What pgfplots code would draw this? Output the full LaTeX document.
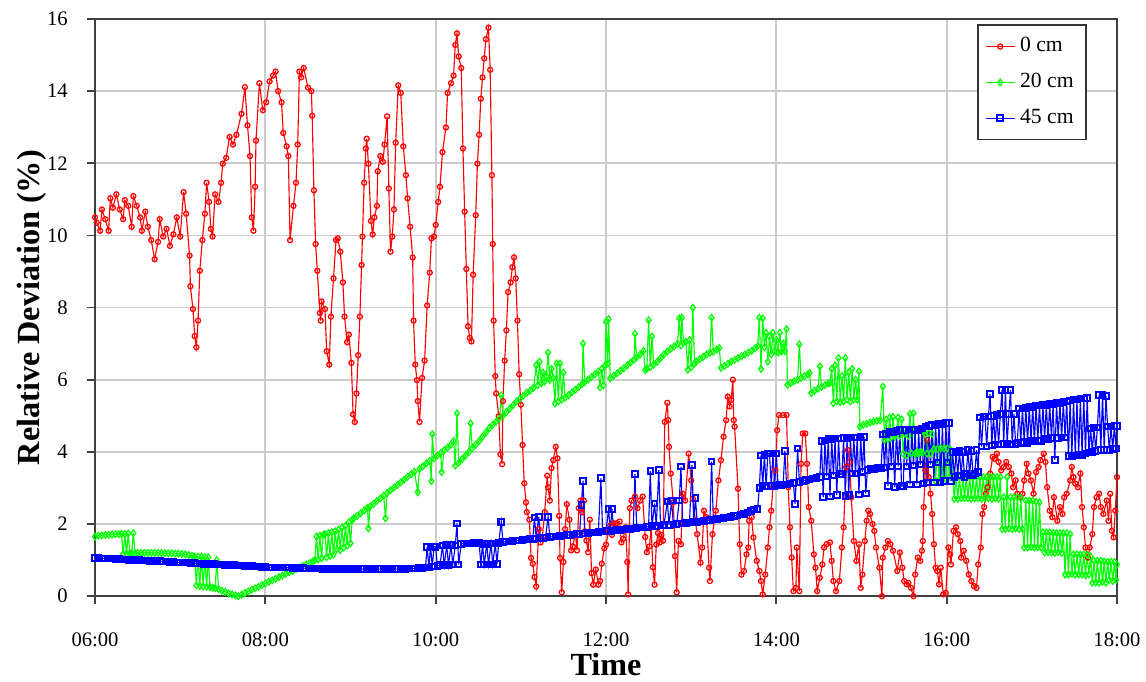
\documentclass[border=0pt]{standalone}
\usepackage{fontspec}
\setmainfont{Liberation Serif}
\usepackage{pgfplots}
\pgfplotsset{compat=1.18}
\definecolor{sred}{RGB}{255,0,0}
\definecolor{sgreen}{RGB}{0,255,0}
\definecolor{sblue}{RGB}{0,0,255}
\begin{document}
\begin{tikzpicture}
\begin{axis}[
  scale only axis,
  width=14.27cm, height=8.06cm,
  xmin=6, xmax=18, ymin=0, ymax=16,
  xtick={6,8,10,12,14,16,18},
  xticklabels={06:00,08:00,10:00,12:00,14:00,16:00,18:00},
  ytick={0,2,4,6,8,10,12,14,16},
  xtick pos=left, ytick pos=left,
  tick align=outside,
  major tick length=0.11cm,
  tick style={black!75, line width=0.7pt},
  grid=major,
  major grid style={gray!40, line width=0.7pt},
  axis line style={black!75, line width=0.9pt},
  /pgf/number format/assume math mode=true,
  tick label style={font=\fontsize{8.2}{9}\selectfont},
  xticklabel style={anchor=north, inner sep=0pt, yshift=-0.40cm},
  yticklabel style={anchor=east, inner sep=0pt, xshift=-0.265cm},
  every axis x label/.style={at={(rel axis cs:0.5,0)}, yshift=-0.95cm, anchor=center, inner sep=0pt, font=\bfseries\fontsize{12.8}{14}\selectfont},
  every axis y label/.style={at={(rel axis cs:0,0.5)}, xshift=-0.88cm, rotate=90, anchor=center, inner sep=0pt, font=\bfseries\fontsize{12.8}{14}\selectfont},
  xlabel={\textbf{Time}},
  ylabel={\textbf{Relative Deviation (\%)}},
  legend style={at={(rel axis cs:0.863,0.991)}, anchor=north west, draw=black!80, line width=0.6pt,
    font=\fontsize{8.6}{9}\selectfont, row sep=3pt, inner xsep=3pt, inner ysep=3pt},
  legend cell align=left,
  legend image code/.code={\draw[mark repeat=2,mark phase=2] plot coordinates {(0cm,0cm) (0.2cm,0cm) (0.4cm,0cm)};},
]
\addplot[sred, line width=0.45pt, mark=o, mark size=1.0pt, mark options={fill=white, line width=0.5pt}] coordinates {
(6.00,10.5)(6.02,10.35)(6.06,10.13)(6.08,10.72)(6.12,10.45)(6.16,10.13)(6.18,11.03)(6.21,10.77)(6.25,11.14)(6.29,10.72)(6.33,10.45)(6.35,10.98)(6.39,10.82)(6.43,10.24)(6.45,11.09)(6.49,10.82)(6.53,10.5)(6.55,10.13)(6.59,10.66)(6.62,10.24)(6.66,9.87)(6.70,9.34)(6.74,9.82)(6.76,10.45)(6.80,9.97)(6.84,10.18)(6.88,9.71)(6.92,10.03)(6.96,10.5)(7.00,9.97)(7.04,11.2)(7.07,10.6)(7.11,9.44)(7.12,8.59)(7.15,7.96)(7.17,7.21)(7.19,6.9)(7.21,7.64)(7.23,9.02)(7.26,9.87)(7.29,10.6)(7.31,11.46)(7.34,10.93)(7.36,10.18)(7.38,9.97)(7.41,11.14)(7.45,10.93)(7.48,11.46)(7.50,11.99)(7.54,12.15)(7.58,12.73)(7.62,12.52)(7.66,12.79)(7.72,13.37)(7.76,14.11)(7.79,13.05)(7.82,12.2)(7.84,10.5)(7.86,10.13)(7.88,11.35)(7.89,12.63)(7.93,14.22)(7.97,13.47)(8.01,13.69)(8.05,14.27)(8.09,14.43)(8.12,14.54)(8.15,14.0)(8.19,13.69)(8.21,12.84)(8.25,12.47)(8.27,12.2)(8.29,9.87)(8.33,10.82)(8.36,11.46)(8.38,12.52)(8.40,14.54)(8.42,14.38)(8.45,14.64)(8.50,14.1)(8.54,14.0)(8.55,13.32)(8.57,11.25)(8.59,9.76)(8.61,9.02)(8.64,7.85)(8.65,7.64)(8.66,8.17)(8.70,7.96)(8.72,6.79)(8.75,6.42)(8.77,7.75)(8.80,8.81)(8.83,9.87)(8.85,9.92)(8.88,9.55)(8.91,8.7)(8.93,7.75)(8.96,7.04)(8.98,7.25)(9.01,6.47)(9.03,5.04)(9.05,4.83)(9.07,5.62)(9.09,6.68)(9.11,7.75)(9.13,9.18)(9.14,9.97)(9.16,11.46)(9.18,12.41)(9.19,12.68)(9.21,11.99)(9.24,10.4)(9.26,10.03)(9.28,10.5)(9.31,10.82)(9.32,11.78)(9.35,12.2)(9.38,12.04)(9.40,12.52)(9.43,13.3)(9.45,11.3)(9.47,9.55)(9.49,9.97)(9.51,10.72)(9.53,12.57)(9.56,14.16)(9.59,13.95)(9.62,12.47)(9.65,11.67)(9.67,11.03)(9.70,10.24)(9.73,9.39)(9.74,7.64)(9.76,6.42)(9.78,5.99)(9.79,5.41)(9.81,4.83)(9.84,6.05)(9.87,6.53)(9.90,8.06)(9.93,8.97)(9.95,9.92)(9.98,9.97)(10.0,10.29)(10.03,10.93)(10.05,11.35)(10.08,12.31)(10.12,12.99)(10.14,13.95)(10.18,14.22)(10.21,14.43)(10.23,15.28)(10.25,15.6)(10.27,14.96)(10.30,14.64)(10.32,12.41)(10.34,10.66)(10.36,9.07)(10.38,7.48)(10.40,7.16)(10.42,7.06)(10.44,8.91)(10.47,10.56)(10.49,11.99)(10.51,12.79)(10.53,13.79)(10.55,14.38)(10.57,14.91)(10.59,15.44)(10.62,15.76)(10.64,14.59)(10.66,11.67)(10.67,9.76)(10.68,7.64)(10.70,6.1)(10.71,5.62)(10.74,4.99)(10.76,3.93)(10.78,3.66)(10.79,5.41)(10.81,6.53)(10.83,7.37)(10.85,8.43)(10.88,8.70)(10.90,9.12)(10.92,9.39)(10.94,8.81)(10.96,7.64)(10.98,6.15)(11.00,5.31)(11.02,4.19)(11.04,3.13)(11.06,2.6)(11.07,2.33)(11.10,2.12)(11.12,1.06)(11.14,0.9)(11.16,0.53)(11.18,0.27)(11.21,1.86)(11.23,1.49)(11.25,1.59)(11.28,2.33)(11.31,3.34)(11.32,3.02)(11.34,2.65)(11.36,3.55)(11.38,3.77)(11.41,4.14)(11.43,3.82)(11.45,2.23)(11.46,1.06)(11.48,0.11)(11.50,0.95)(11.52,1.86)(11.54,2.55)(11.57,2.12)(11.59,1.27)(11.61,1.38)(11.64,1.75)(11.66,1.27)(11.68,2.44)(11.70,2.65)(11.72,2.33)(11.74,2.65)(11.75,1.8)(11.77,1.54)(11.79,1.22)(11.81,2.12)(11.83,0.64)(11.85,0.32)(11.88,0.74)(11.91,0.32)(11.93,0.42)(11.95,0.9)(11.98,1.33)(12.0,1.43)(12.03,1.8)(12.05,1.96)(12.07,1.7)(12.09,2.02)(12.12,2.02)(12.16,2.07)(12.18,1.49)(12.20,1.59)(12.23,1.91)(12.25,0.95)(12.26,0.05)(12.28,2.44)(12.30,2.65)(12.34,2.76)(12.37,2.44)(12.40,2.65)(12.43,2.76)(12.46,1.64)(12.48,1.22)(12.51,1.38)(12.53,1.91)(12.55,0.8)(12.57,0.32)(12.59,1.43)(12.61,1.75)(12.63,1.49)(12.65,1.7)(12.67,1.54)(12.69,4.83)(12.72,5.36)(12.73,4.88)(12.74,4.14)(12.76,3.4)(12.79,2.6)(12.80,1.96)(12.81,1.11)(12.83,0.11)(12.85,1.53)(12.88,1.44)(12.90,2.84)(12.93,2.65)(12.97,3.95)(13.0,3.21)(13.02,2.7)(13.05,2.09)(13.07,1.72)(13.11,0.93)(13.13,1.35)(13.15,2.37)(13.18,2.19)(13.21,0.79)(13.22,0.42)(13.25,1.72)(13.29,2.37)(13.32,3.21)(13.35,3.77)(13.38,4.42)(13.41,4.88)(13.43,5.53)(13.45,5.26)(13.47,5.44)(13.49,6.0)(13.50,4.88)(13.51,4.7)(13.55,2.98)(13.57,1.44)(13.59,0.6)(13.62,0.7)(13.65,1.16)(13.67,1.35)(13.68,2.09)(13.71,2.19)(13.73,1.63)(13.77,0.98)(13.80,0.7)(13.82,0.42)(13.84,0.05)(13.87,0.6)(13.90,1.35)(13.92,1.91)(13.94,2.37)(13.96,3.02)(13.99,3.49)(14.01,4.6)(14.03,5.02)(14.08,5.02)(14.12,5.02)(14.14,3.02)(14.16,1.91)(14.18,1.07)(14.20,0.14)(14.23,0.23)(14.24,1.35)(14.27,0.14)(14.29,3.67)(14.31,4.51)(14.34,4.51)(14.36,3.67)(14.38,2.47)(14.41,2.09)(14.44,1.16)(14.46,0.79)(14.48,0.14)(14.51,0.51)(14.54,0.88)(14.56,1.35)(14.59,1.44)(14.63,1.49)(14.65,0.98)(14.67,0.42)(14.70,0.14)(14.74,0.42)(14.77,1.35)(14.79,1.91)(14.82,3.58)(14.84,4.05)(14.86,3.72)(14.88,2.74)(14.91,1.53)(14.94,0.98)(14.97,1.44)(14.99,0.23)(15.01,0.6)(15.04,1.53)(15.06,2.09)(15.08,2.37)(15.10,2.28)(15.13,2.0)(15.15,1.81)(15.17,1.35)(15.21,0.79)(15.24,0.0)(15.25,1.07)(15.28,1.35)(15.31,1.53)(15.34,1.44)(15.37,1.26)(15.42,0.7)(15.45,1.21)(15.48,0.79)(15.5,0.42)(15.53,0.33)(15.55,0.37)(15.58,0.23)(15.61,0.0)(15.63,0.6)(15.66,1.07)(15.69,0.98)(15.71,1.26)(15.72,1.53)(15.73,2.47)(15.75,3.49)(15.77,4.33)(15.79,3.3)(15.81,2.84)(15.83,2.28)(15.85,1.44)(15.87,0.79)(15.89,0.7)(15.91,0.33)(15.93,0.79)(15.96,0.05)(15.99,0.09)(16.02,1.35)(16.04,1.16)(16.05,0.88)(16.08,1.81)(16.11,1.91)(16.13,1.72)(16.16,1.53)(16.17,1.07)(16.20,1.26)(16.23,0.98)(16.26,0.6)(16.29,0.42)(16.32,0.28)(16.35,0.23)(16.37,0.88)(16.40,1.35)(16.42,2.28)(16.44,2.47)(16.46,2.84)(16.48,3.02)(16.51,3.4)(16.54,3.86)(16.56,3.81)(16.59,3.95)(16.61,3.72)(16.64,3.49)(16.67,3.58)(16.70,3.72)(16.73,3.58)(16.76,3.4)(16.78,3.02)(16.81,3.21)(16.83,2.84)(16.86,2.74)(16.89,2.84)(16.91,3.21)(16.94,3.67)(16.96,3.4)(16.99,3.21)(17.02,2.84)(17.05,3.44)(17.08,3.58)(17.10,3.77)(17.14,3.95)(17.16,3.72)(17.18,3.02)(17.21,2.37)(17.24,2.19)(17.26,2.74)(17.30,2.09)(17.33,2.47)(17.36,2.28)(17.38,2.74)(17.41,2.84)(17.45,3.21)(17.47,3.58)(17.49,3.3)(17.51,3.12)(17.54,3.02)(17.57,3.4)(17.59,2.47)(17.61,1.91)(17.63,1.35)(17.66,1.07)(17.68,1.35)(17.71,1.72)(17.73,2.47)(17.76,2.74)(17.79,2.84)(17.81,2.47)(17.84,2.28)(17.88,2.65)(17.90,2.09)(17.92,2.84)(17.94,1.81)(17.96,1.63)(17.98,2.37)(18.0,3.3)
};
\addlegendentry{0 cm}
\addplot[sgreen, line width=0.45pt, mark=diamond, mark size=1.3pt, mark options={fill=white, line width=0.5pt}] coordinates {
(6.00,1.65)(6.04,1.68)(6.08,1.69)(6.12,1.70)(6.16,1.70)(6.20,1.71)(6.24,1.72)(6.28,1.72)(6.31,1.73)(6.33,1.17)(6.35,1.72)(6.37,1.17)(6.39,1.74)(6.41,1.18)(6.43,1.20)(6.45,1.75)(6.47,1.19)(6.50,1.20)(6.54,1.20)(6.58,1.20)(6.62,1.20)(6.66,1.20)(6.70,1.20)(6.74,1.20)(6.78,1.20)(6.82,1.19)(6.86,1.19)(6.90,1.19)(6.94,1.18)(6.98,1.18)(7.02,1.17)(7.06,1.16)(7.10,1.14)(7.14,1.12)(7.17,1.10)(7.19,0.30)(7.21,1.10)(7.23,0.28)(7.25,1.10)(7.27,0.27)(7.29,1.08)(7.31,0.26)(7.33,1.08)(7.35,0.25)(7.38,0.24)(7.41,0.22)(7.43,1.00)(7.45,0.20)(7.49,0.15)(7.53,0.12)(7.57,0.08)(7.61,0.05)(7.65,0.02)(7.68,0.00)(7.72,0.04)(7.76,0.09)(7.80,0.13)(7.84,0.18)(7.88,0.22)(7.92,0.26)(7.96,0.31)(8.00,0.35)(8.04,0.40)(8.08,0.44)(8.12,0.48)(8.16,0.53)(8.20,0.57)(8.24,0.62)(8.28,0.66)(8.32,0.70)(8.36,0.75)(8.40,0.79)(8.44,0.84)(8.48,0.88)(8.52,0.92)(8.56,0.97)(8.58,1.00)(8.60,1.65)(8.62,1.02)(8.64,1.68)(8.66,1.05)(8.68,1.70)(8.70,1.72)(8.72,1.08)(8.74,1.75)(8.76,1.12)(8.78,1.78)(8.80,1.15)(8.82,1.80)(8.84,1.30)(8.86,1.85)(8.88,1.28)(8.90,1.90)(8.92,1.35)(8.94,1.95)(8.96,1.40)(8.98,2.05)(9.00,1.47)(9.02,2.12)(9.04,2.16)(9.08,2.23)(9.12,2.30)(9.16,2.38)(9.20,2.45)(9.21,1.88)(9.23,2.49)(9.27,2.56)(9.31,2.64)(9.35,2.71)(9.39,2.79)(9.41,2.16)(9.43,2.86)(9.47,2.94)(9.51,3.01)(9.55,3.08)(9.59,3.16)(9.63,3.23)(9.67,3.31)(9.71,3.38)(9.75,3.45)(9.79,2.88)(9.81,3.53)(9.85,3.60)(9.89,3.68)(9.93,3.75)(9.95,3.19)(9.96,4.49)(9.98,3.82)(10.02,3.90)(10.06,3.97)(10.07,3.44)(10.10,4.05)(10.14,4.12)(10.18,4.20)(10.21,4.30)(10.23,3.62)(10.25,5.07)(10.27,3.70)(10.31,3.80)(10.35,3.90)(10.39,4.00)(10.41,4.79)(10.43,4.10)(10.47,4.20)(10.51,4.30)(10.55,4.42)(10.59,4.54)(10.63,4.66)(10.67,4.75)(10.71,4.84)(10.75,4.93)(10.77,5.57)(10.79,5.00)(10.83,5.10)(10.87,5.20)(10.91,5.30)(10.95,5.40)(10.99,5.48)(11.03,5.56)(11.07,5.64)(11.11,5.70)(11.15,5.78)(11.18,6.40)(11.20,5.85)(11.22,6.50)(11.24,5.90)(11.26,6.20)(11.28,5.95)(11.30,6.10)(11.32,6.75)(11.34,6.00)(11.36,6.30)(11.38,6.05)(11.40,5.34)(11.42,6.45)(11.44,5.40)(11.46,6.45)(11.48,5.45)(11.50,6.20)(11.52,5.50)(11.56,5.57)(11.60,5.65)(11.64,5.72)(11.68,5.80)(11.72,5.88)(11.73,7.00)(11.75,5.93)(11.79,6.00)(11.83,6.08)(11.87,6.15)(11.91,6.23)(11.93,5.79)(11.95,6.30)(11.97,5.85)(11.99,6.40)(12.00,7.61)(12.02,6.45)(12.03,7.68)(12.05,6.04)(12.09,6.11)(12.13,6.18)(12.17,6.25)(12.21,6.32)(12.25,6.40)(12.29,6.48)(12.33,6.56)(12.34,7.28)(12.36,6.62)(12.40,6.70)(12.44,6.80)(12.46,6.27)(12.48,6.30)(12.50,7.65)(12.52,6.35)(12.54,7.20)(12.56,6.42)(12.60,6.50)(12.64,6.60)(12.68,6.70)(12.72,6.78)(12.76,6.86)(12.80,6.92)(12.84,7.00)(12.86,7.70)(12.88,6.95)(12.89,7.72)(12.91,7.02)(12.94,7.05)(12.96,6.28)(12.98,7.10)(13.00,6.35)(13.02,8.00)(13.04,6.45)(13.06,6.50)(13.10,6.57)(13.14,6.63)(13.18,6.70)(13.22,6.75)(13.24,7.72)(13.26,6.78)(13.30,6.84)(13.33,6.88)(13.35,6.33)(13.39,6.38)(13.43,6.44)(13.47,6.50)(13.51,6.55)(13.55,6.60)(13.59,6.65)(13.63,6.70)(13.67,6.75)(13.71,6.80)(13.75,6.87)(13.78,6.93)(13.80,7.72)(13.82,6.30)(13.84,7.70)(13.86,6.90)(13.88,7.30)(13.90,6.50)(13.92,7.20)(13.94,6.70)(13.96,7.30)(13.98,6.80)(14.00,7.10)(14.02,6.75)(14.04,7.30)(14.06,6.78)(14.08,7.00)(14.10,6.79)(14.12,7.40)(14.13,5.86)(14.17,5.91)(14.21,5.96)(14.25,6.00)(14.27,6.98)(14.29,6.05)(14.33,6.10)(14.37,6.15)(14.39,6.19)(14.41,5.63)(14.45,5.70)(14.49,5.75)(14.51,6.37)(14.53,5.80)(14.57,5.85)(14.61,5.90)(14.63,5.91)(14.65,6.30)(14.67,5.35)(14.69,6.40)(14.71,5.40)(14.73,6.60)(14.75,5.38)(14.77,6.10)(14.79,5.40)(14.81,6.60)(14.83,5.45)(14.85,6.20)(14.87,5.40)(14.89,6.30)(14.91,5.45)(14.93,6.00)(14.95,5.45)(14.97,6.23)(14.98,4.70)(15.02,4.75)(15.06,4.78)(15.10,4.81)(15.14,4.84)(15.18,4.86)(15.22,4.88)(15.25,5.81)(15.27,4.33)(15.29,4.90)(15.31,4.35)(15.33,4.95)(15.35,4.40)(15.37,4.97)(15.39,4.42)(15.41,4.50)(15.43,4.95)(15.45,4.45)(15.47,4.90)(15.49,3.95)(15.51,4.50)(15.53,3.90)(15.55,4.45)(15.57,5.05)(15.59,3.95)(15.61,5.07)(15.63,3.95)(15.65,4.00)(15.67,3.95)(15.69,4.00)(15.71,3.98)(15.73,4.55)(15.75,4.50)(15.77,3.95)(15.79,4.52)(15.81,3.95)(15.83,4.50)(15.85,4.08)(15.87,3.20)(15.89,4.08)(15.91,3.22)(15.93,4.10)(15.95,3.25)(15.97,4.10)(15.99,3.25)(16.01,4.10)(16.03,3.30)(16.05,4.05)(16.07,3.30)(16.09,2.70)(16.11,3.30)(16.13,2.70)(16.15,3.30)(16.17,2.72)(16.19,3.30)(16.21,2.72)(16.23,3.30)(16.25,2.72)(16.27,3.30)(16.29,2.70)(16.31,3.30)(16.33,2.72)(16.35,3.32)(16.37,2.72)(16.39,3.30)(16.41,2.70)(16.43,3.30)(16.45,2.72)(16.47,3.30)(16.49,2.72)(16.51,3.30)(16.53,2.70)(16.55,3.30)(16.57,2.72)(16.59,3.30)(16.61,2.70)(16.63,3.30)(16.65,1.86)(16.67,2.74)(16.69,1.86)(16.71,3.30)(16.73,1.88)(16.75,2.74)(16.77,1.86)(16.79,2.74)(16.81,1.88)(16.83,2.74)(16.85,1.86)(16.87,2.72)(16.89,1.86)(16.91,1.35)(16.93,2.65)(16.95,1.35)(16.97,2.65)(16.99,1.37)(17.01,2.65)(17.03,1.35)(17.05,2.62)(17.07,1.36)(17.09,2.60)(17.11,1.35)(17.13,1.77)(17.15,1.21)(17.17,1.77)(17.19,1.22)(17.21,1.77)(17.23,1.21)(17.25,1.75)(17.27,1.20)(17.29,1.75)(17.31,1.22)(17.33,1.75)(17.35,1.20)(17.37,1.74)(17.39,0.60)(17.41,1.75)(17.43,0.60)(17.45,1.72)(17.47,0.62)(17.49,1.16)(17.51,0.60)(17.53,1.16)(17.55,0.60)(17.57,1.15)(17.59,0.60)(17.61,1.16)(17.63,0.58)(17.65,1.15)(17.67,0.60)(17.69,1.10)(17.71,0.37)(17.73,0.98)(17.75,0.38)(17.77,0.98)(17.79,0.37)(17.81,0.98)(17.83,0.40)(17.85,0.96)(17.87,0.37)(17.89,0.95)(17.91,0.45)(17.93,0.95)(17.95,0.42)(17.97,0.95)(17.99,0.45)(18.00,0.88)
};
\addlegendentry{20 cm}
\addplot[sblue, line width=0.45pt, mark=square, mark size=1.1pt, mark options={fill=white, line width=0.8pt}] coordinates {
(6.00,1.06)(6.04,1.06)(6.08,1.05)(6.12,1.05)(6.16,1.04)(6.20,1.04)(6.24,1.03)(6.28,1.03)(6.32,1.02)(6.36,1.02)(6.40,1.01)(6.44,1.01)(6.48,1.00)(6.52,1.00)(6.56,0.99)(6.60,0.99)(6.64,0.98)(6.68,0.98)(6.72,0.97)(6.76,0.97)(6.80,0.96)(6.84,0.96)(6.88,0.95)(6.92,0.95)(6.96,0.94)(7.00,0.94)(7.04,0.93)(7.08,0.93)(7.12,0.92)(7.16,0.92)(7.20,0.91)(7.24,0.91)(7.28,0.90)(7.32,0.90)(7.36,0.89)(7.40,0.89)(7.44,0.88)(7.48,0.88)(7.52,0.87)(7.56,0.87)(7.60,0.86)(7.64,0.86)(7.68,0.85)(7.72,0.85)(7.76,0.84)(7.80,0.84)(7.84,0.83)(7.88,0.82)(7.92,0.82)(7.96,0.81)(8.00,0.81)(8.04,0.80)(8.08,0.80)(8.12,0.80)(8.16,0.79)(8.20,0.79)(8.24,0.79)(8.28,0.79)(8.32,0.78)(8.36,0.78)(8.40,0.78)(8.44,0.78)(8.48,0.77)(8.52,0.77)(8.56,0.77)(8.60,0.77)(8.64,0.77)(8.68,0.76)(8.72,0.76)(8.76,0.76)(8.80,0.76)(8.84,0.76)(8.88,0.76)(8.92,0.75)(8.96,0.75)(9.00,0.75)(9.04,0.75)(9.08,0.75)(9.12,0.75)(9.16,0.75)(9.20,0.75)(9.24,0.75)(9.28,0.75)(9.32,0.75)(9.36,0.75)(9.40,0.75)(9.44,0.75)(9.48,0.75)(9.52,0.75)(9.56,0.75)(9.60,0.75)(9.64,0.76)(9.68,0.77)(9.72,0.77)(9.76,0.77)(9.80,0.78)(9.84,0.78)(9.88,0.80)(9.90,1.36)(9.92,0.80)(9.94,1.38)(9.96,0.82)(9.98,1.38)(10.00,1.36)(10.02,0.84)(10.05,0.86)(10.08,1.40)(10.10,0.85)(10.13,1.42)(10.15,0.86)(10.18,1.42)(10.20,0.88)(10.23,1.40)(10.25,2.02)(10.27,0.88)(10.30,1.45)(10.33,1.46)(10.36,1.46)(10.39,1.46)(10.42,1.46)(10.45,1.47)(10.48,1.47)(10.51,1.48)(10.53,0.88)(10.55,1.45)(10.57,0.88)(10.60,1.45)(10.62,0.88)(10.65,1.46)(10.67,0.88)(10.70,1.46)(10.72,0.89)(10.74,1.48)(10.77,2.06)(10.79,1.50)(10.82,1.51)(10.86,1.52)(10.90,1.53)(10.94,1.54)(10.98,1.55)(11.02,1.56)(11.06,1.57)(11.10,1.58)(11.14,1.59)(11.16,2.18)(11.18,1.60)(11.21,2.20)(11.23,1.61)(11.26,1.62)(11.29,1.63)(11.32,2.20)(11.34,1.64)(11.38,1.65)(11.42,1.66)(11.46,1.67)(11.50,1.68)(11.54,1.69)(11.58,1.70)(11.62,1.71)(11.66,1.72)(11.69,1.72)(11.71,2.53)(11.73,3.20)(11.75,1.74)(11.79,1.75)(11.83,1.76)(11.87,1.77)(11.91,1.78)(11.94,3.27)(11.96,1.79)(12.00,1.80)(12.03,2.41)(12.05,1.81)(12.07,2.41)(12.09,1.82)(12.13,1.83)(12.17,1.84)(12.21,1.85)(12.25,1.86)(12.29,1.87)(12.32,1.88)(12.34,3.39)(12.36,1.89)(12.40,1.90)(12.44,1.91)(12.48,1.92)(12.50,1.93)(12.52,3.47)(12.54,1.94)(12.57,2.57)(12.59,1.95)(12.62,3.50)(12.64,1.96)(12.68,1.97)(12.72,2.62)(12.74,1.98)(12.77,2.65)(12.79,1.99)(12.83,2.00)(12.86,2.65)(12.88,3.59)(12.90,2.01)(12.94,2.03)(12.98,2.04)(13.01,3.64)(13.03,2.05)(13.05,2.72)(13.07,2.06)(13.11,2.07)(13.15,2.08)(13.19,2.10)(13.22,2.11)(13.24,3.73)(13.26,2.12)(13.30,2.14)(13.34,2.15)(13.38,2.17)(13.42,2.18)(13.46,2.20)(13.50,2.22)(13.54,2.24)(13.58,2.26)(13.62,2.28)(13.66,2.32)(13.70,2.36)(13.74,2.40)(13.78,2.42)(13.80,3.00)(13.82,3.90)(13.84,3.05)(13.86,3.92)(13.88,3.05)(13.90,3.95)(13.92,3.95)(13.94,3.05)(13.96,3.95)(13.98,3.06)(14.00,3.95)(14.02,3.07)(14.04,3.08)(14.06,3.08)(14.08,3.09)(14.10,4.03)(14.12,3.10)(14.16,3.12)(14.20,3.14)(14.22,2.56)(14.25,4.09)(14.27,3.16)(14.31,3.20)(14.35,3.22)(14.39,3.24)(14.43,3.26)(14.47,3.28)(14.51,3.30)(14.53,4.30)(14.55,2.75)(14.57,4.32)(14.59,3.32)(14.61,4.35)(14.63,2.76)(14.65,4.35)(14.67,3.35)(14.69,4.37)(14.71,2.80)(14.73,4.37)(14.75,3.38)(14.77,3.38)(14.79,4.38)(14.81,2.78)(14.83,4.38)(14.85,2.80)(14.87,4.40)(14.89,3.40)(14.91,4.40)(14.93,3.40)(14.95,4.40)(14.97,2.82)(14.99,4.42)(15.01,3.45)(15.03,4.42)(15.05,2.85)(15.07,3.50)(15.11,3.52)(15.15,3.53)(15.19,3.55)(15.23,3.56)(15.25,4.48)(15.27,3.57)(15.29,4.50)(15.31,3.05)(15.33,4.55)(15.35,3.60)(15.37,4.55)(15.39,3.02)(15.41,4.58)(15.43,3.60)(15.45,4.60)(15.47,3.05)(15.49,3.05)(15.51,4.60)(15.53,3.60)(15.55,4.62)(15.57,3.10)(15.59,4.62)(15.61,3.62)(15.63,4.60)(15.65,3.10)(15.67,4.60)(15.69,3.65)(15.71,4.65)(15.73,3.12)(15.75,4.70)(15.77,3.15)(15.79,4.72)(15.81,3.65)(15.83,4.75)(15.85,3.15)(15.87,4.75)(15.89,3.70)(15.91,4.78)(15.93,3.15)(15.95,4.78)(15.97,3.20)(15.99,4.80)(16.01,3.70)(16.03,4.80)(16.05,3.20)(16.07,4.00)(16.09,3.30)(16.11,4.00)(16.13,3.35)(16.15,4.02)(16.17,3.35)(16.19,4.00)(16.21,3.30)(16.23,3.40)(16.25,4.05)(16.27,3.35)(16.29,4.02)(16.31,3.35)(16.33,3.40)(16.35,4.05)(16.37,3.45)(16.39,4.95)(16.41,4.15)(16.43,4.98)(16.45,4.98)(16.47,4.15)(16.49,4.98)(16.51,5.61)(16.53,4.18)(16.55,5.00)(16.57,4.20)(16.59,5.02)(16.61,4.20)(16.63,5.05)(16.65,5.72)(16.67,4.22)(16.69,5.72)(16.71,4.22)(16.73,5.05)(16.75,5.72)(16.77,4.20)(16.79,5.05)(16.81,4.22)(16.83,4.25)(16.85,5.20)(16.87,4.25)(16.89,5.20)(16.91,4.28)(16.93,5.22)(16.95,4.25)(16.97,5.25)(16.99,4.30)(17.01,5.25)(17.03,4.30)(17.05,5.28)(17.07,4.32)(17.09,5.28)(17.11,4.30)(17.13,5.30)(17.15,4.35)(17.17,5.30)(17.19,4.35)(17.21,5.32)(17.23,4.38)(17.25,5.33)(17.27,3.77)(17.29,5.35)(17.31,4.38)(17.33,5.35)(17.35,4.40)(17.37,5.38)(17.39,4.40)(17.41,5.40)(17.43,3.88)(17.45,5.42)(17.47,3.88)(17.49,5.45)(17.51,3.90)(17.53,5.45)(17.55,3.92)(17.57,5.48)(17.59,3.92)(17.61,5.48)(17.63,3.95)(17.65,5.50)(17.67,3.98)(17.69,4.65)(17.71,4.00)(17.73,4.68)(17.75,4.02)(17.77,4.68)(17.79,5.58)(17.81,4.05)(17.83,5.58)(17.85,4.05)(17.87,5.55)(17.89,4.70)(17.91,4.05)(17.93,4.70)(17.95,4.08)(17.97,4.72)(17.99,4.09)(18.00,4.72)
};
\addlegendentry{45 cm}
\end{axis}
\pgfresetboundingbox
\path[use as bounding box] ([xshift=-1.327cm,yshift=-1.187cm]current axis.south west) rectangle ([xshift=0.405cm,yshift=0.265cm]current axis.north east);
\end{tikzpicture}
\end{document}
